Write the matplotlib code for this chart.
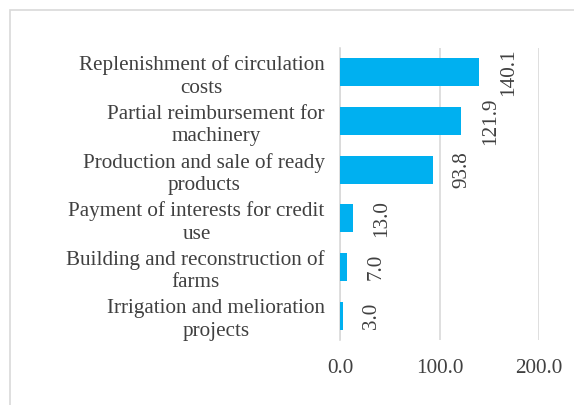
import matplotlib.pyplot as plt
from matplotlib.patches import Rectangle

categories = [
    "Replenishment of circulation\ncosts",
    "Partial reimbursement for\nmachinery",
    "Production and sale of ready\nproducts",
    "Payment of interests for credit\nuse",
    "Building and reconstruction of\nfarms",
    "Irrigation and melioration\nprojects",
]
values = [140.1, 121.9, 93.8, 13.0, 7.0, 3.0]
xticks = [0, 100, 200]

plt.rcParams["font.family"] = ["Liberation Serif", "DejaVu Serif"]
text_color = "#404040"
grid_color = "#D9D9D9"
bar_color = "#00B0F0"

fig = plt.figure(figsize=(5.74, 4.05), dpi=100)
ax = fig.add_axes([340 / 574, 1 - 340 / 405, 199 / 574, 292 / 405])

pos = list(range(len(categories)))
ax.barh(pos, values, height=0.58, color=bar_color, zorder=3)
ax.set_ylim(len(categories) - 0.5, -0.5)
ax.set_xlim(0, 200)

ax.set_yticks(pos)
ax.set_yticklabels(categories, fontsize=15.2, color=text_color,
                   multialignment="center", linespacing=1.25)
ax.set_xticks(xticks)
ax.set_xticklabels([f"{v:.1f}" for v in xticks], fontsize=15.2, color=text_color)
ax.tick_params(axis="both", length=0)
ax.tick_params(axis="y", pad=11)
ax.tick_params(axis="x", pad=14)

ax.grid(axis="x", color=grid_color, linewidth=1.2, zorder=0)
for side in ["top", "right", "bottom"]:
    ax.spines[side].set_visible(False)
ax.spines["left"].set_color(grid_color)
ax.spines["left"].set_linewidth(1.2)

for p, v in zip(pos, values):
    ax.annotate(f"{v:.1f}", xy=(v, p), xytext=(14, 0), textcoords="offset points",
                rotation=90, ha="left", va="center", fontsize=15.2, color=text_color)

frame = Rectangle((10 / 574, -0.1), 1.2, 1.1 - 10 / 405, transform=fig.transFigure,
                  fill=False, edgecolor=grid_color, linewidth=1.2)
fig.patches.append(frame)

fig.savefig("out.png", dpi=100)
